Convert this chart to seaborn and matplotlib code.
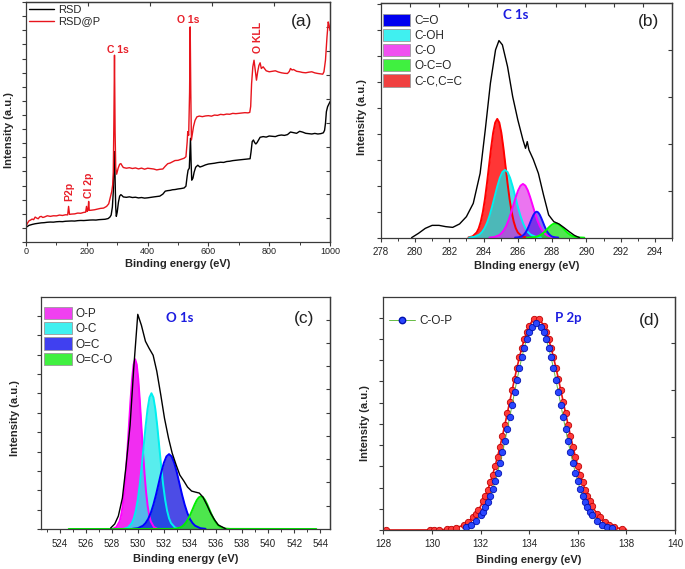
import matplotlib
matplotlib.use('Agg')
import matplotlib.pyplot as plt
from matplotlib.patches import Patch
from matplotlib.lines import Line2D
from matplotlib.ticker import MultipleLocator, FixedLocator, NullFormatter
import numpy as np
import seaborn as sns

# ─── Data (intensity in arbitrary units) ───
# (a) survey spectra
rsd_x = [0, 5, 10, 20, 30, 40, 50, 60, 70, 80, 90, 100, 110, 120, 130, 140, 150, 160, 170, 180,
         190, 200, 210, 220, 230, 240, 250, 260, 270, 276, 280, 284, 287, 289, 291, 293, 295, 297,
         300, 304, 308, 312, 316, 320, 330, 340, 350, 360, 370, 380, 390, 400, 410, 420, 430, 440,
         450, 458, 466, 474, 482, 490, 500, 510, 520, 526, 530, 533, 537, 539, 541, 543, 545, 549,
         553, 558, 565, 572, 580, 590, 600, 610, 620, 630, 640, 650, 660, 670, 680, 690, 700, 710,
         720, 730, 737, 740, 744, 748, 752, 756, 760, 765, 770, 780, 790, 800, 810, 820, 830, 840,
         850, 860, 870, 880, 890, 900, 910, 920, 930, 940, 950, 960, 970, 978, 982, 985, 988, 992,
         996, 1000]
rsd_y = [14.7, 15.7, 16.7, 17.6, 18.3, 18.8, 19.2, 19.4, 19.8, 20.0, 19.9, 20.3, 20.5, 20.4, 20.8,
         21.0, 21.1, 21.0, 21.4, 21.6, 21.5, 21.8, 22.0, 22.1, 22.0, 22.4, 22.6, 22.8, 23.5, 25.0,
         27.0, 35.0, 50.0, 75.0, 90.7, 65.0, 35.0, 25.7, 30.0, 40.0, 46.0, 47.5, 46.5, 45.2, 44.8,
         45.3, 44.6, 44.9, 44.2, 44.6, 44.0, 44.3, 44.8, 45.2, 45.6, 46.0, 48.0, 51.0, 51.5, 51.8,
         52.4, 52.6, 53.2, 53.6, 54.2, 56.0, 66.0, 72.0, 74.0, 90.0, 104.0, 80.0, 62.0, 64.0, 70.0,
         75.0, 77.0, 75.2, 76.0, 77.3, 78.2, 78.6, 79.0, 79.6, 80.0, 79.8, 80.7, 81.0, 81.6, 82.0,
         82.3, 82.6, 83.0, 83.1, 83.5, 90.0, 100.7, 102.3, 99.7, 98.3, 99.7, 102.3, 105.0, 105.7,
         105.2, 106.3, 106.0, 105.7, 106.8, 107.3, 106.9, 107.7, 110.3, 109.7, 109.0, 111.0, 110.2,
         109.0, 108.6, 108.3, 108.9, 108.3, 108.7, 109.5, 112.0, 119.0, 130.7, 135.7, 138.3, 140.7]
rsdp_x = [0, 5, 10, 15, 20, 25, 30, 35, 40, 45, 50, 55, 60, 70, 80, 90, 100, 110, 120, 130, 137,
          140, 143, 150, 160, 170, 180, 190, 196, 199, 201, 204, 206, 208, 215, 225, 235, 245, 255,
          265, 272, 278, 282, 285, 287, 289, 291, 293, 295, 298, 303, 308, 312, 316, 320, 330, 340,
          350, 360, 370, 380, 390, 400, 410, 420, 430, 440, 450, 458, 466, 474, 482, 490, 500, 510,
          520, 526, 530, 532, 535, 538, 540, 542, 544, 547, 551, 556, 562, 570, 580, 590, 600, 610,
          620, 630, 640, 650, 660, 670, 680, 690, 700, 710, 720, 730, 736, 739, 742, 746, 750, 754,
          758, 762, 766, 770, 774, 780, 790, 800, 810, 820, 830, 840, 850, 860, 866, 870, 875, 880,
          890, 900, 910, 920, 930, 940, 950, 960, 970, 976, 980, 985, 990, 994, 997, 1000]
rsdp_y = [15.7, 19.0, 21.3, 22.0, 23.0, 22.4, 25.0, 24.0, 23.3, 25.2, 25.7, 24.6, 25.0, 26.3, 25.7,
          26.3, 26.2, 27.0, 26.6, 27.3, 27.2, 35.7, 27.7, 28.0, 28.2, 29.0, 28.8, 29.7, 29.9, 35.7,
          30.7, 32.0, 40.7, 31.7, 31.9, 32.3, 33.0, 33.7, 34.0, 35.7, 38.3, 45.7, 50.7, 57.3, 70.0,
          120.0, 187.3, 110.0, 75.0, 68.0, 74.0, 78.0, 78.6, 76.5, 74.7, 74.0, 74.5, 73.7, 74.3,
          73.3, 74.1, 73.0, 74.0, 73.6, 73.2, 72.3, 72.9, 73.2, 76.0, 78.5, 79.2, 80.4, 81.7, 81.9,
          83.0, 84.0, 85.5, 100.0, 110.7, 107.0, 150.0, 215.7, 150.0, 102.3, 108.0, 116.0, 122.0,
          125.5, 126.3, 125.7, 126.4, 126.7, 126.2, 127.3, 127.0, 128.0, 127.6, 128.3, 128.1, 129.0,
          128.7, 129.0, 129.4, 129.7, 129.5, 130.0, 136.0, 159.0, 175.7, 182.3, 172.3, 162.3, 170.7,
          177.0, 179.7, 174.0, 175.7, 171.7, 170.7, 171.2, 171.7, 170.5, 169.7, 169.2, 169.0, 171.0,
          174.0, 172.5, 173.0, 171.2, 170.7, 170.0, 169.7, 170.3, 170.7, 169.6, 169.0, 168.6, 168.3,
          170.7, 182.3, 205.7, 220.7, 217.3, 212.0]

# (b) C 1s
c1s_env_x = [279.8, 280.2, 280.6, 281.0, 281.4, 281.8, 282.2, 282.6, 283.0, 283.4, 283.8, 284.1,
             284.4, 284.7, 284.9, 285.1, 285.4, 285.7, 286.0, 286.3, 286.45, 286.55, 286.65, 286.9,
             287.2, 287.5, 287.8, 288.1, 288.4, 288.7, 289.0, 289.3, 289.6]
c1s_env_y = [0.0, 4.3, 9.3, 12.3, 12.3, 11.0, 10.3, 13.7, 21.0, 34.3, 64.3, 107.7, 154.3, 187.7,
             197.0, 192.7, 171.0, 141.0, 117.7, 97.7, 89.3, 96.0, 87.7, 78.3, 64.3, 42.7, 22.7,
             16.0, 13.7, 10.0, 6.0, 2.3, 0.0]
cc_x = [283.12, 283.36, 283.60, 283.72, 283.84, 283.96, 284.08, 284.20, 284.32, 284.44, 284.56,
        284.68, 284.80, 284.92, 285.04, 285.16, 285.28, 285.40, 285.52, 285.64, 285.76, 285.88,
        286.00, 286.24, 286.48]
cc_y = [0.3, 1.3, 5.2, 9.4, 16.1, 25.7, 38.5, 54.3, 72.0, 89.6, 104.8, 115.0, 118.7, 115.0, 104.8,
        89.6, 72.0, 54.3, 38.5, 25.7, 16.1, 9.4, 5.2, 1.3, 0.3]
coh_x = [283.15, 283.45, 283.75, 283.90, 284.05, 284.20, 284.35, 284.50, 284.65, 284.80, 284.95,
         285.10, 285.25, 285.40, 285.55, 285.70, 285.85, 286.00, 286.15, 286.30, 286.45, 286.60,
         286.75, 287.05, 287.35]
coh_y = [0.1, 0.8, 3.0, 5.4, 9.2, 14.6, 22.0, 31.0, 41.1, 51.1, 59.7, 65.6, 67.7, 65.6, 59.7, 51.1,
         41.1, 31.0, 22.0, 14.6, 9.2, 5.4, 3.0, 0.8, 0.1]
co_x = [284.34, 284.62, 284.90, 285.04, 285.18, 285.32, 285.46, 285.60, 285.74, 285.88, 286.02,
        286.16, 286.30, 286.44, 286.58, 286.72, 286.86, 287.00, 287.14, 287.28, 287.42, 287.56,
        287.70, 287.98, 288.26]
co_y = [0.1, 0.6, 2.4, 4.3, 7.3, 11.6, 17.4, 24.6, 32.6, 40.5, 47.4, 52.0, 53.7, 52.0, 47.4, 40.5,
        32.6, 24.6, 17.4, 11.6, 7.3, 4.3, 2.4, 0.6, 0.1]
c_dbl_o_x = [285.84, 286.02, 286.20, 286.29, 286.38, 286.47, 286.56, 286.65, 286.74, 286.83, 286.92,
             287.01, 287.10, 287.19, 287.28, 287.37, 287.46, 287.55, 287.64, 287.73, 287.82,
             287.91, 288.00, 288.18, 288.36]
c_dbl_o_y = [0.1, 0.3, 1.1, 2.1, 3.5, 5.6, 8.4, 11.9, 15.8, 19.6, 22.9, 25.2, 26.0, 25.2, 22.9,
             19.6, 15.8, 11.9, 8.4, 5.6, 3.5, 2.1, 1.1, 0.3, 0.1]
oco_x = [286.52, 286.76, 287.00, 287.12, 287.24, 287.36, 287.48, 287.60, 287.72, 287.84, 287.96,
         288.08, 288.20, 288.32, 288.44, 288.56, 288.68, 288.80, 288.92, 289.04, 289.16, 289.28,
         289.40, 289.64, 289.88]
oco_y = [0.0, 0.2, 0.6, 1.1, 1.9, 3.1, 4.6, 6.5, 8.7, 10.8, 12.6, 13.9, 14.3, 13.9, 12.6, 10.8, 8.7,
         6.5, 4.6, 3.1, 1.9, 1.1, 0.6, 0.2, 0.0]

# (c) O 1s
o1s_env_x = [527.92, 528.23, 528.51, 528.82, 529.10, 529.41, 529.69, 530.00, 530.28, 530.59,
             530.87, 531.18, 531.46, 531.77, 532.05, 532.36, 532.64, 532.95, 533.23, 533.54,
             533.82, 534.13, 534.41, 534.72, 535.00, 535.31, 535.59, 535.90, 536.18, 536.49, 536.77]
o1s_env_y = [1, 5, 13, 31, 63, 104, 161, 215, 204, 188, 181, 174, 158, 134, 111, 91, 76, 64, 54,
             48, 42, 38, 37, 36, 32, 24, 16, 9, 4, 2, 0]
op_x = [528.12, 528.36, 528.60, 528.72, 528.84, 528.96, 529.08, 529.20, 529.32, 529.44, 529.56,
        529.68, 529.80, 529.92, 530.04, 530.16, 530.28, 530.40, 530.52, 530.64, 530.76, 530.88,
        531.00, 531.24, 531.48]
op_y = [0.4, 1.9, 7.5, 13.5, 23.0, 36.8, 55.2, 77.8, 103.1, 128.3, 150.0, 164.8, 170.0, 164.8,
        150.0, 128.3, 103.1, 77.8, 55.2, 36.8, 23.0, 13.5, 7.5, 1.9, 0.4]
oc_x = [528.95, 529.25, 529.55, 529.70, 529.85, 530.00, 530.15, 530.30, 530.45, 530.60, 530.75,
        530.90, 531.05, 531.20, 531.35, 531.50, 531.65, 531.80, 531.95, 532.10, 532.25, 532.40,
        532.55, 532.85, 533.15]
oc_y = [0.3, 1.5, 6.0, 10.8, 18.4, 29.4, 44.2, 62.3, 82.5, 102.7, 120.0, 131.8, 136.0, 131.8,
        120.0, 102.7, 82.5, 62.3, 44.2, 29.4, 18.4, 10.8, 6.0, 1.5, 0.3]
o_dbl_c_x = [529.60, 530.00, 530.40, 530.60, 530.80, 531.00, 531.20, 531.40, 531.60, 531.80,
             532.00, 532.20, 532.40, 532.60, 532.80, 533.00, 533.20, 533.40, 533.60, 533.80,
             534.00, 534.20, 534.40, 534.80, 535.20]
o_dbl_c_y = [0.2, 0.8, 3.3, 6.0, 10.1, 16.2, 24.4, 34.3, 45.5, 56.6, 66.2, 72.7, 75.0, 72.7, 66.2,
             56.6, 45.5, 34.3, 24.4, 16.2, 10.1, 6.0, 3.3, 0.8, 0.2]
oco2_x = [524.70, 532.61, 532.93, 533.25, 533.41, 533.57, 533.73, 533.89, 534.05, 534.21, 534.37,
          534.53, 534.69, 534.85, 535.01, 535.17, 535.33, 535.49, 535.65, 535.81, 535.97, 536.13,
          536.29, 536.45, 536.77, 537.09, 543.70]
oco2_y = [0.0, 0.1, 0.4, 1.4, 2.6, 4.4, 7.1, 10.6, 15.0, 19.8, 24.7, 28.9, 31.7, 32.7, 31.7, 28.9,
          24.7, 19.8, 15.0, 10.6, 7.1, 4.4, 2.6, 1.4, 0.4, 0.1, 0.0]

# (d) P 2p
p2p_red_x = [128.1, 129.9,
             130.0, 130.1, 130.2, 130.3, 130.4, 130.5, 130.6, 130.7, 130.8, 130.9,
             131.0, 131.1, 131.2, 131.3, 131.4, 131.5, 131.6, 131.7, 131.8, 131.9,
             132.0, 132.1, 132.2, 132.3, 132.4, 132.5, 132.6, 132.7, 132.8, 132.9,
             133.0, 133.1, 133.2, 133.3, 133.4, 133.5, 133.6, 133.7, 133.8, 133.9,
             134.0, 134.1, 134.2, 134.3, 134.4, 134.5, 134.6, 134.7, 134.8, 134.9,
             135.0, 135.1, 135.2, 135.3, 135.4, 135.5, 135.6, 135.7, 135.8, 135.9,
             136.0, 136.1, 136.2, 136.3, 136.4, 136.5, 136.6, 136.7, 136.8, 136.9,
             137.0, 137.1, 137.2, 137.3, 137.4, 137.5, 137.6, 137.7, 137.8, 137.9, 138.0]
p2p_red_y = [0.0, 0.1,
             0.1, 0.1, 0.2, 0.3, 0.4, 0.5, 0.7, 1.0, 1.3, 1.8,
             2.4, 3.1, 4.0, 5.1, 6.6, 8.3, 10.4, 13.0, 16.0, 19.6,
             23.8, 28.7, 34.2, 40.5, 47.6, 55.5, 64.1, 73.5, 83.5, 94.2,
             105.3, 116.8, 128.4, 140.0, 151.5, 162.5, 172.9, 182.4, 190.9, 198.2,
             204.0, 208.2, 210.8, 211.7, 210.8, 208.2, 204.0, 198.2, 190.9, 182.4,
             172.9, 162.5, 151.5, 140.0, 128.4, 116.8, 105.3, 94.2, 83.5, 73.5,
             64.1, 55.5, 47.6, 40.5, 34.2, 28.7, 23.8, 19.6, 16.0, 13.0,
             10.4, 8.3, 6.6, 5.1, 4.0, 3.1, 2.4, 1.8, 1.3, 1.0, 0.7]
p2p_blue_x = [131.4, 131.5, 131.6, 131.7, 131.8, 131.9,
              132.0, 132.1, 132.2, 132.3, 132.4, 132.5, 132.6, 132.7, 132.8, 132.9,
              133.0, 133.1, 133.2, 133.3, 133.4, 133.5, 133.6, 133.7, 133.8, 133.9,
              134.0, 134.1, 134.2, 134.3, 134.4, 134.5, 134.6, 134.7, 134.8, 134.9,
              135.0, 135.1, 135.2, 135.3, 135.4, 135.5, 135.6, 135.7, 135.8, 135.9,
              136.0, 136.1, 136.2, 136.3, 136.4, 136.5, 136.6, 136.7, 136.8, 136.9,
              137.0, 137.1, 137.2, 137.3, 137.4, 137.5]
p2p_blue_y = [3.1, 4.1, 5.4, 7.0, 9.1, 11.6,
              14.7, 18.4, 22.8, 28.0, 34.0, 40.9, 48.7, 57.5, 67.1, 77.6,
              88.8, 100.6, 112.9, 125.4, 137.9, 150.1, 161.8, 172.7, 182.4, 190.8,
              197.6, 202.6, 205.7, 206.7, 205.7, 202.6, 197.6, 190.8, 182.4, 172.7,
              161.8, 150.1, 137.9, 125.4, 112.9, 100.6, 88.8, 77.6, 67.1, 57.5,
              48.7, 40.9, 34.0, 28.0, 22.8, 18.4, 14.7, 11.6, 9.1, 7.0,
              5.4, 4.1, 3.1, 2.3, 1.7, 1.2]

# ─── Style ───────────────────────────────────────────────────
sns.set_theme(style='ticks')
plt.rcParams['font.family'] = ['Liberation Sans', 'DejaVu Sans']
SPINE = '#3a3a3a'
TITLE_BLUE = '#1c1ce0'
ANNOT_RED = '#e8202a'


def frame(ax, left_step, right_ticks, xmajor, xminor, pad, labelsize=7, top_ticks=None):
    for s in ax.spines.values():
        s.set_visible(True)
        s.set_color(SPINE)
        s.set_linewidth(0.9)
    ax.xaxis.set_major_locator(MultipleLocator(xmajor))
    if xminor:
        ax.xaxis.set_minor_locator(MultipleLocator(xminor))
    ax.yaxis.set_major_locator(MultipleLocator(left_step))
    ax.yaxis.set_major_formatter(NullFormatter())
    ax.tick_params(which='major', direction='out', length=3, width=0.8, color=SPINE,
                   labelsize=labelsize, pad=pad, labelcolor='#222222')
    ax.tick_params(which='minor', direction='out', length=2, width=0.7, color=SPINE)
    sec = ax.secondary_yaxis('right')
    sec.yaxis.set_major_locator(FixedLocator(right_ticks))
    sec.yaxis.set_major_formatter(NullFormatter())
    sec.tick_params(direction='in', length=3, width=0.8, color=SPINE)
    sec.spines['right'].set_color(SPINE)
    sec.spines['right'].set_linewidth(0.9)
    if top_ticks is not None:
        top = ax.secondary_xaxis('top')
        top.xaxis.set_major_locator(FixedLocator(top_ticks))
        top.xaxis.set_major_formatter(NullFormatter())
        top.tick_params(direction='in', length=3, width=0.8, color=SPINE)
        top.spines['top'].set_color(SPINE)
        top.spines['top'].set_linewidth(0.9)


def labels(ax, xlabel, xl_y, yl_x, yl_y):
    ax.set_xlabel(xlabel, fontsize=8, fontweight='bold')
    ax.set_ylabel('Intensity (a.u.)', fontsize=8, fontweight='bold')
    ax.xaxis.set_label_coords(0.5, xl_y)
    ax.yaxis.set_label_coords(yl_x, yl_y)


def component(ax, xs, ys, face, edge, alpha):
    ax.fill_between(xs, 0, ys, color=face, alpha=alpha, lw=0)
    sns.lineplot(x=xs, y=ys, ax=ax, color=edge, lw=1.4, sort=False, estimator=None)


fig = plt.figure(figsize=(6.85, 5.69), dpi=100)
ax_a = fig.add_axes([0.038, 0.5747, 0.4438, 0.4218])
ax_b = fig.add_axes([0.5558, 0.5823, 0.4253, 0.412])
ax_c = fig.add_axes([0.0594, 0.0703, 0.4223, 0.4083])
ax_d = fig.add_axes([0.5596, 0.0685, 0.4258, 0.41])

# ── (a) survey ───────────────────────────────────────────────
sns.lineplot(x=rsd_x, y=rsd_y, ax=ax_a, color='black', lw=1.0, sort=False, estimator=None)
sns.lineplot(x=rsdp_x, y=rsdp_y, ax=ax_a, color='#e8141c', lw=1.0, sort=False, estimator=None)
ax_a.set_xlim(0, 1000)
ax_a.set_ylim(0, 240.7)
frame(ax_a, 14.15, [23.7 + 24 * k for k in range(9)], 200, 100, 0.8, labelsize=6.5,
      top_ticks=[204, 408, 612, 816])
labels(ax_a, 'Binding energy (eV)', -0.072, -0.041, 0.467)
ax_a.legend(handles=[Line2D([], [], color='black', lw=1.0, label='RSD'),
                     Line2D([], [], color='#e8141c', lw=1.0, label='RSD@P')],
            loc='upper left', bbox_to_anchor=(0.0, 1.0), frameon=False, fontsize=8,
            handlelength=2.3, handletextpad=0.3, labelspacing=0.15, borderpad=0.15,
            borderaxespad=0.1)
ann = dict(color=ANNOT_RED, fontsize=7.5, fontweight='bold', ha='center', va='center')
ax_a.text(141, 51, 'P2p', rotation=90, **ann)
ax_a.text(208, 57, 'Cl 2p', rotation=90, **ann)
ax_a.text(303, 193, 'C 1s', **ann)
ax_a.text(533, 223, 'O 1s', **ann)
ax_a.text(764, 205, 'O KLL', rotation=90, **ann)
ax_a.text(0.907, 0.918, '(a)', transform=ax_a.transAxes, fontsize=12.5, ha='center',
          va='center', color='#222222')

# ── (b) C 1s ─────────────────────────────────────────────────
component(ax_b, cc_x, cc_y, '#ff1a1a', '#ff0000', 0.88)
component(ax_b, coh_x, coh_y, '#19dede', '#00f0f0', 0.78)
component(ax_b, co_x, co_y, '#e020e8', '#ff00ff', 0.62)
component(ax_b, c_dbl_o_x, c_dbl_o_y, '#2000e0', '#1010ff', 0.55)
component(ax_b, oco_x, oco_y, '#20e020', '#00ff00', 0.78)
sns.lineplot(x=c1s_env_x, y=c1s_env_y, ax=ax_b, color='black', lw=1.0, sort=False,
             estimator=None)
ax_b.set_xlim(278, 295)
ax_b.set_ylim(0, 234.3)
frame(ax_b, 25.9, [46.9 * k for k in range(1, 5)], 2, 1, 3.5,
      top_ticks=[279.7, 281.4, 283.1, 284.8, 286.5, 288.2, 289.9, 291.6, 293.3])
labels(ax_b, 'BInding energy (eV)', -0.1, -0.046, 0.516)
ax_b.legend(handles=[Patch(facecolor='#0000f0', edgecolor='#9a9a9a', lw=0.6, label='C=O'),
                     Patch(facecolor='#40f0f0', edgecolor='#9a9a9a', lw=0.6, label='C-OH'),
                     Patch(facecolor='#f050f0', edgecolor='#9a9a9a', lw=0.6, label='C-O'),
                     Patch(facecolor='#40f040', edgecolor='#9a9a9a', lw=0.6, label='O-C=O'),
                     Patch(facecolor='#f04040', edgecolor='#9a9a9a', lw=0.6, label='C-C,C=C')],
            loc='upper left', bbox_to_anchor=(0.0, 0.965), frameon=False, fontsize=8.5,
            handlelength=2.3, handleheight=1.2, handletextpad=0.35, labelspacing=0.18,
            borderpad=0.1, borderaxespad=0.1)
ax_b.text(0.464, 0.95, 'C 1s', transform=ax_b.transAxes, fontsize=9.5, fontweight='bold',
          color=TITLE_BLUE, ha='center', va='center', family=['Lato', 'DejaVu Sans'])
ax_b.text(0.92, 0.921, '(b)', transform=ax_b.transAxes, fontsize=12.5, ha='center',
          va='center', color='#222222')

# ── (c) O 1s ─────────────────────────────────────────────────
component(ax_c, op_x, op_y, '#f010f0', '#ff00ff', 0.88)
component(ax_c, oc_x, oc_y, '#20e8e8', '#00f0f0', 0.75)
component(ax_c, o_dbl_c_x, o_dbl_c_y, '#1a1ae0', '#0000ff', 0.78)
component(ax_c, oco2_x, oco2_y, '#20e020', '#00ee00', 0.8)
sns.lineplot(x=o1s_env_x, y=o1s_env_y, ax=ax_c, color='black', lw=1.0, sort=False,
             estimator=None)
ax_c.set_xlim(522.55, 544.75)
ax_c.set_ylim(0, 232.7)
frame(ax_c, 19.4, [23.3 * k for k in range(1, 10)], 2, 1, 4.5)
labels(ax_c, 'Binding energy (eV)', -0.108, -0.07, 0.478)
ax_c.legend(handles=[Patch(facecolor='#f040f0', edgecolor='#9a9a9a', lw=0.6, label='O-P'),
                     Patch(facecolor='#40f0f0', edgecolor='#9a9a9a', lw=0.6, label='O-C'),
                     Patch(facecolor='#4040f0', edgecolor='#9a9a9a', lw=0.6, label='O=C'),
                     Patch(facecolor='#40f040', edgecolor='#9a9a9a', lw=0.6, label='O=C-O')],
            loc='upper left', bbox_to_anchor=(0.005, 0.965), frameon=False, fontsize=8.5,
            handlelength=2.3, handleheight=1.2, handletextpad=0.35, labelspacing=0.18,
            borderpad=0.1, borderaxespad=0.1)
ax_c.text(0.48, 0.907, 'O 1s', transform=ax_c.transAxes, fontsize=9.5, fontweight='bold',
          color=TITLE_BLUE, ha='center', va='center', family=['Lato', 'DejaVu Sans'])
ax_c.text(0.91, 0.907, '(c)', transform=ax_c.transAxes, fontsize=12.5, ha='center',
          va='center', color='#222222')

# ── (d) P 2p ─────────────────────────────────────────────────
sns.lineplot(x=p2p_red_x, y=p2p_red_y, ax=ax_d, color='#ee1111', lw=1.2, sort=False,
             estimator=None, marker='o', markersize=4.6, markevery=0.016,
             markerfacecolor='#ff3a3a', markeredgecolor='#c00000', markeredgewidth=0.6)
sns.lineplot(x=p2p_blue_x, y=p2p_blue_y, ax=ax_d, color='#66bb44', lw=0.7, sort=False,
             estimator=None, marker='o', markersize=4.6, markevery=0.016,
             markerfacecolor='#2a46ff', markeredgecolor='#0010b0', markeredgewidth=0.6)
ax_d.set_xlim(128, 140)
ax_d.set_ylim(0, 233.3)
frame(ax_d, 21.25, [46.7 * k for k in range(1, 5)], 2, None, 3.5)
labels(ax_d, 'Binding energy (eV)', -0.107, -0.044, 0.459)
ax_d.legend(handles=[Line2D([], [], color='#66bb44', lw=0.7, marker='o', markersize=4.6,
                            markerfacecolor='#2a46ff', markeredgecolor='#0010b0',
                            label='C-O-P')],
            loc='upper left', bbox_to_anchor=(0.01, 0.93), frameon=False, fontsize=8.5,
            handlelength=2.2, handletextpad=0.4, borderpad=0.1, borderaxespad=0.1)
ax_d.text(0.634, 0.907, 'P 2p', transform=ax_d.transAxes, fontsize=9.5, fontweight='bold',
          color=TITLE_BLUE, ha='center', va='center', family=['Lato', 'DejaVu Sans'])
ax_d.text(0.914, 0.90, '(d)', transform=ax_d.transAxes, fontsize=12.5, ha='center',
          va='center', color='#222222')

fig.savefig('out.png', dpi=100)
